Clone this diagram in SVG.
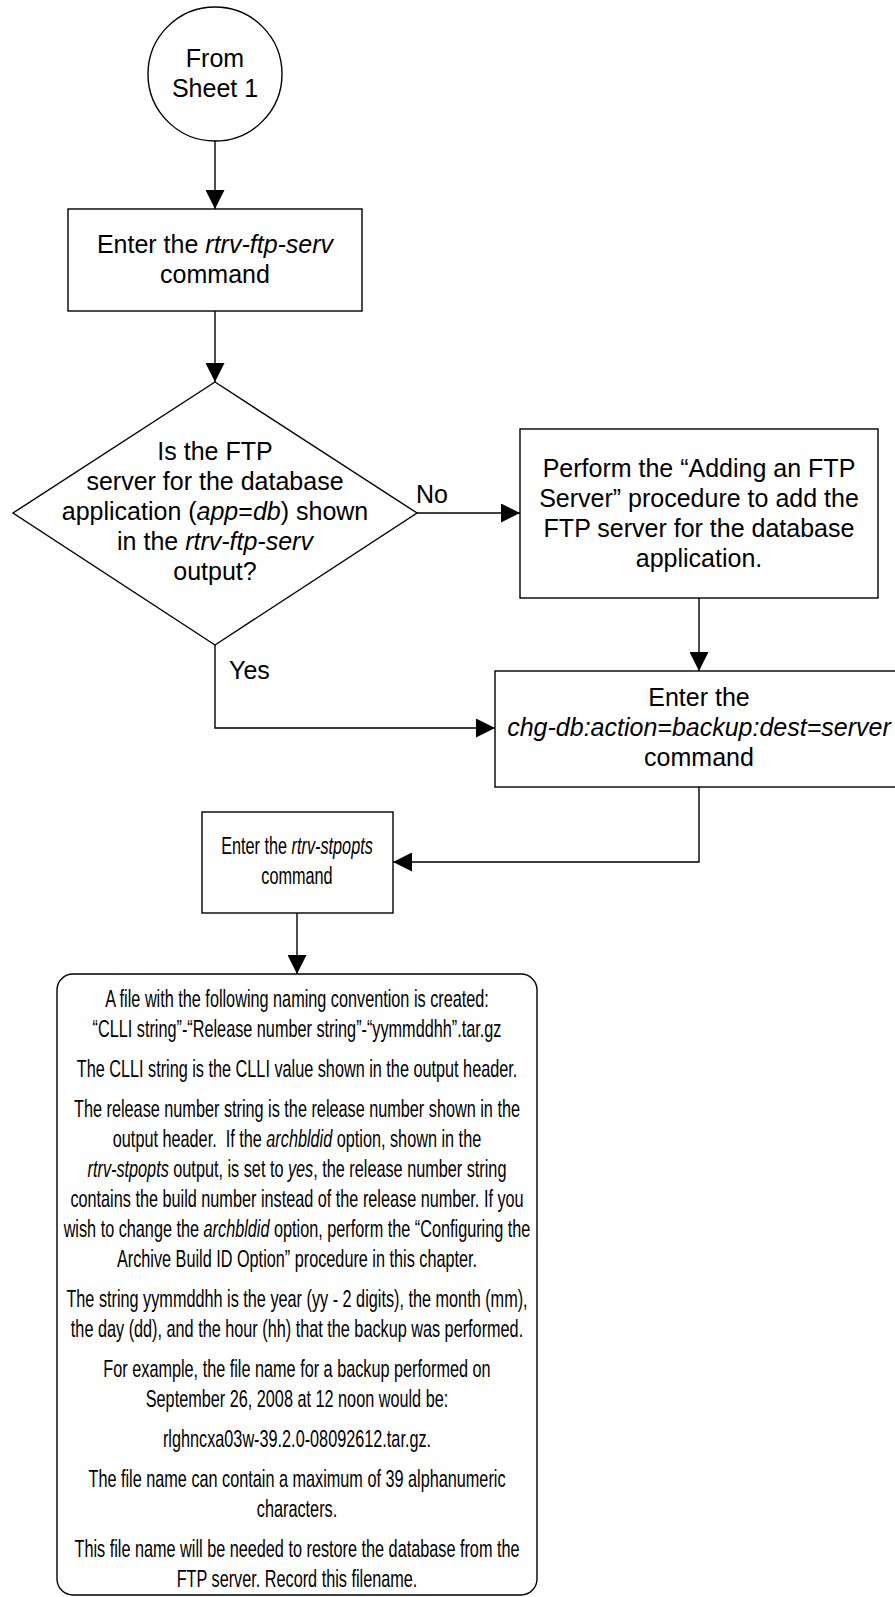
<svg xmlns="http://www.w3.org/2000/svg" width="895" height="1597" viewBox="0 0 895 1597">
<style>
.shape{fill:#fff;stroke:#000;stroke-width:1.4}
.conn{fill:none;stroke:#000;stroke-width:1.4}
.t{font-family:"Liberation Sans",Arial,sans-serif;font-size:25px;fill:#000;text-anchor:middle}
.l{font-family:"Liberation Sans",Arial,sans-serif;font-size:25px;fill:#000}
.n{font-family:"Liberation Sans",Arial,sans-serif;font-size:24px;fill:#000;text-anchor:middle}
.i{font-style:italic}
</style>
<defs>
<marker id="arr" markerUnits="userSpaceOnUse" markerWidth="19" markerHeight="19" refX="19" refY="9.5" orient="auto">
<path d="M0,0 L19,9.5 L0,19 Z" fill="#000"/>
</marker>
</defs>
<rect width="895" height="1597" fill="#fff"/>
<g id="connectors">
<path class="conn" d="M215,141 V209" marker-end="url(#arr)"/>
<path class="conn" d="M215,311 V382" marker-end="url(#arr)"/>
<path class="conn" d="M417,513 H520" marker-end="url(#arr)"/>
<path class="conn" d="M699,598 V671" marker-end="url(#arr)"/>
<path class="conn" d="M215,645 V728 H495" marker-end="url(#arr)"/>
<path class="conn" d="M699,787 V862 H393" marker-end="url(#arr)"/>
<path class="conn" d="M297,913 V974" marker-end="url(#arr)"/>
<text class="l" x="416" y="503">No</text>
<text class="l" x="229" y="679">Yes</text>
</g>
<g id="start">
<circle class="shape" cx="215" cy="74" r="67"/>
<text class="t" x="215" y="67">From</text>
<text class="t" x="215" y="97">Sheet 1</text>
</g>
<g id="box1">
<rect class="shape" x="68" y="209" width="294" height="102"/>
<text class="t" x="215" y="253">Enter the <tspan class="i">rtrv-ftp-serv</tspan></text>
<text class="t" x="215" y="283">command</text>
</g>
<g id="decision">
<polygon class="shape" points="215,382 417,513 215,645 13,513"/>
<text class="t" x="215" y="460">Is the FTP</text>
<text class="t" x="215" y="490">server for the database</text>
<text class="t" x="215" y="520">application (<tspan class="i">app</tspan>=<tspan class="i">db</tspan>) shown</text>
<text class="t" x="215" y="550">in the <tspan class="i">rtrv-ftp-serv</tspan></text>
<text class="t" x="215" y="580">output?</text>
</g>
<g id="box2">
<rect class="shape" x="520" y="429" width="358" height="169"/>
<text class="t" x="699" y="477">Perform the “Adding an FTP</text>
<text class="t" x="699" y="507">Server” procedure to add the</text>
<text class="t" x="699" y="537">FTP server for the database</text>
<text class="t" x="699" y="567">application.</text>
</g>
<g id="box3">
<rect class="shape" x="495" y="671" width="410" height="116"/>
<text class="t" x="699" y="706">Enter the</text>
<text class="t i" x="699" y="736">chg-db:action=backup:dest=server</text>
<text class="t" x="699" y="766">command</text>
</g>
<g id="box4">
<rect class="shape" x="202" y="812" width="191" height="101"/>
<text class="n" transform="translate(297,854) scale(0.677,1)">Enter the <tspan class="i">rtrv-stpopts</tspan></text>
<text class="n" transform="translate(297,884) scale(0.677,1)">command</text>
</g>
<g id="note">
<rect class="shape" x="57" y="974" width="480" height="621" rx="16" ry="16"/>
<text class="n" transform="translate(297,1007) scale(0.677,1)">A file with the following naming convention is created:</text>
<text class="n" transform="translate(297,1037) scale(0.677,1)">“CLLI string”-“Release number string”-“yymmddhh”.tar.gz</text>
<text class="n" transform="translate(297,1077) scale(0.677,1)">The CLLI string is the CLLI value shown in the output header.</text>
<text class="n" transform="translate(297,1117) scale(0.677,1)">The release number string is the release number shown in the</text>
<text class="n" transform="translate(297,1147) scale(0.677,1)" xml:space="preserve">output header.  If the <tspan class="i">archbldid</tspan> option, shown in the</text>
<text class="n" transform="translate(297,1177) scale(0.677,1)"><tspan class="i">rtrv-stpopts</tspan> output, is set to <tspan class="i">yes</tspan>, the release number string</text>
<text class="n" transform="translate(297,1207) scale(0.677,1)">contains the build number instead of the release number. If you</text>
<text class="n" transform="translate(297,1237) scale(0.677,1)">wish to change the <tspan class="i">archbldid</tspan> option, perform the “Configuring the</text>
<text class="n" transform="translate(297,1267) scale(0.677,1)">Archive Build ID Option” procedure in this chapter.</text>
<text class="n" transform="translate(297,1307) scale(0.677,1)">The string yymmddhh is the year (yy - 2 digits), the month (mm),</text>
<text class="n" transform="translate(297,1337) scale(0.677,1)">the day (dd), and the hour (hh) that the backup was performed.</text>
<text class="n" transform="translate(297,1377) scale(0.677,1)">For example, the file name for a backup performed on</text>
<text class="n" transform="translate(297,1407) scale(0.677,1)">September 26, 2008 at 12 noon would be:</text>
<text class="n" transform="translate(297,1447) scale(0.677,1)">rlghncxa03w-39.2.0-08092612.tar.gz.</text>
<text class="n" transform="translate(297,1487) scale(0.677,1)">The file name can contain a maximum of 39 alphanumeric</text>
<text class="n" transform="translate(297,1517) scale(0.677,1)">characters.</text>
<text class="n" transform="translate(297,1557) scale(0.677,1)">This file name will be needed to restore the database from the</text>
<text class="n" transform="translate(297,1587) scale(0.677,1)">FTP server. Record this filename.</text>
</g>
</svg>
